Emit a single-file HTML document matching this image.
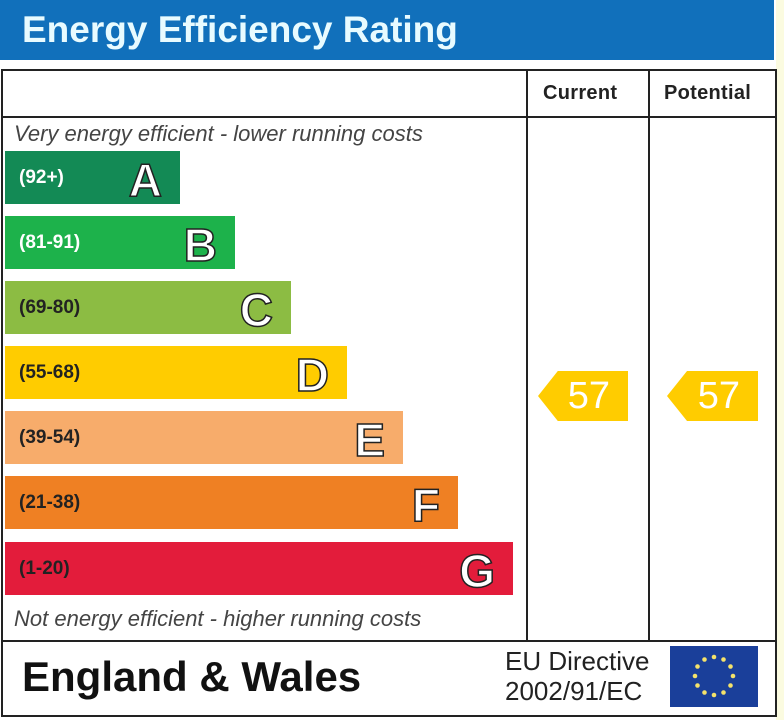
<!DOCTYPE html>
<html><head><style>
body{margin:0;width:784px;height:720px;background:#fff;position:relative;overflow:hidden;font-family:"Liberation Sans",sans-serif}
.a{position:absolute;white-space:nowrap}
.bar{position:absolute;left:5px;height:53px}
.bar .r{position:absolute;left:14px;top:16px;font-size:19px;font-weight:bold;color:#fff}
.bar .l{position:absolute;right:18px;top:2px;font-size:46px;font-weight:bold;color:#fff;-webkit-text-stroke:1.5px #222}
.arr{position:absolute;height:50px;background:#ffcc00;clip-path:polygon(0 50%,22% 0,100% 0,100% 100%,22% 100%);color:#fff;font-size:38px;text-align:right;line-height:50px;padding-right:18px;box-sizing:border-box}
</style></head><body>
<div class="a" style="left:776px;top:0;width:8px;height:720px;background:#fbfbe0"></div>
<div class="a" style="left:0;top:0;width:774px;height:60px;background:#1170bb"></div>
<div class="a" style="left:22px;top:9px;font-size:37px;font-weight:bold;color:#e8fbff">Energy Efficiency Rating</div>
<div class="a" style="left:1px;top:69px;width:772px;height:644px;border:2px solid #222"></div>
<div class="a" style="left:1px;top:116px;width:774px;height:2px;background:#222"></div>
<div class="a" style="left:1px;top:640px;width:774px;height:2px;background:#222"></div>
<div class="a" style="left:526px;top:69px;width:2px;height:572px;background:#222"></div>
<div class="a" style="left:648px;top:69px;width:2px;height:572px;background:#222"></div>
<div class="a" style="left:543px;top:82px;font-size:20px;font-weight:bold;color:#222;letter-spacing:0.3px">Current</div>
<div class="a" style="left:664px;top:82px;font-size:20px;font-weight:bold;color:#222;letter-spacing:0.3px">Potential</div>
<div class="a" style="left:14px;top:121px;font-size:22px;font-style:italic;color:#444">Very energy efficient - lower running costs</div>
<div class="a" style="left:14px;top:606px;font-size:22px;font-style:italic;color:#444">Not energy efficient - higher running costs</div>
<div class="bar" style="top:151px;width:175px;background:#138a55"><span class="r">(92+)</span><span class="l">A</span></div>
<div class="bar" style="top:216px;width:230px;background:#1db24b"><span class="r">(81-91)</span><span class="l">B</span></div>
<div class="bar" style="top:281px;width:286px;background:#8cbc43"><span class="r" style="color:#222">(69-80)</span><span class="l">C</span></div>
<div class="bar" style="top:346px;width:342px;background:#ffcc00"><span class="r" style="color:#222">(55-68)</span><span class="l">D</span></div>
<div class="bar" style="top:411px;width:398px;background:#f7ac6b"><span class="r" style="color:#222">(39-54)</span><span class="l">E</span></div>
<div class="bar" style="top:476px;width:453px;background:#ef8023"><span class="r" style="color:#222">(21-38)</span><span class="l">F</span></div>
<div class="bar" style="top:542px;width:508px;background:#e31c3b"><span class="r" style="color:#222">(1-20)</span><span class="l">G</span></div>
<div class="arr" style="left:538px;top:371px;width:90px">57</div>
<div class="arr" style="left:667px;top:371px;width:91px">57</div>
<div class="a" style="left:22px;top:653px;font-size:42px;font-weight:bold;color:#111">England &amp; Wales</div>
<div class="a" style="left:505px;top:646px;font-size:26px;color:#222;line-height:30px">EU Directive<br>2002/91/EC</div>
<svg class="a" style="left:670px;top:646px" width="88" height="61"><rect width="88" height="61" fill="#1a3f9a"/>
<g fill="#f5e36b">
<circle cx="44" cy="11" r="2.3"/><circle cx="53.5" cy="13.5" r="2.3"/><circle cx="60.5" cy="20.5" r="2.3"/><circle cx="63" cy="30" r="2.3"/><circle cx="60.5" cy="39.5" r="2.3"/><circle cx="53.5" cy="46.5" r="2.3"/><circle cx="44" cy="49" r="2.3"/><circle cx="34.5" cy="46.5" r="2.3"/><circle cx="27.5" cy="39.5" r="2.3"/><circle cx="25" cy="30" r="2.3"/><circle cx="27.5" cy="20.5" r="2.3"/><circle cx="34.5" cy="13.5" r="2.3"/></g></svg>
</body></html>
